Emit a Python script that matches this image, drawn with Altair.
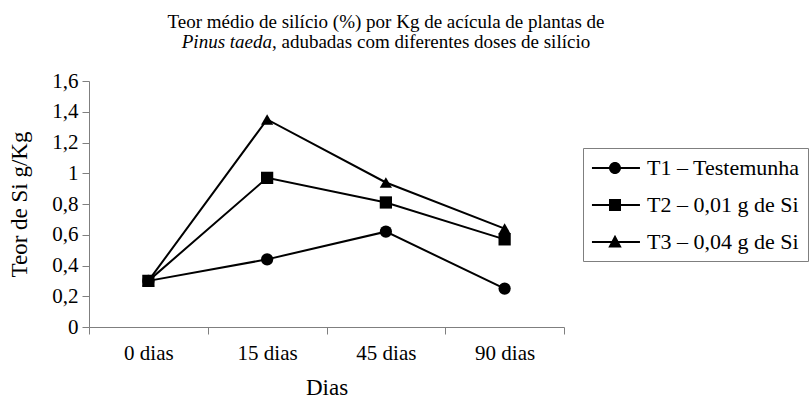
import altair as alt
import pandas as pd

# ---- data ----
dias = ["0 dias", "15 dias", "45 dias", "90 dias"]
series = ["T1 – Testemunha", "T2 – 0,01 g de Si", "T3 – 0,04 g de Si"]
t1 = [0.30, 0.44, 0.62, 0.25]
t2 = [0.30, 0.97, 0.81, 0.57]
t3 = [0.30, 1.35, 0.94, 0.64]
y_ticks = [0, 0.2, 0.4, 0.6, 0.8, 1.0, 1.2, 1.4, 1.6]

title_line1 = "Teor médio de silício (%) por Kg de acícula de plantas de"
title_line2_italic = "Pinus taeda"
title_line2_rest = ", adubadas com diferentes doses de silício"
x_title = "Dias"
y_title = "Teor de Si g/Kg"

FONT = "'Liberation Serif', 'Times New Roman', 'DejaVu Serif', serif"
AXIS_GRAY = "#7f7f7f"

df = pd.DataFrame({
    "dia": dias * 3,
    "serie": [s for s in series for _ in dias],
    "valor": t1 + t2 + t3,
})

# legend symbols: line segment + marker (custom SVG paths in symbol units)
legend_paths = [
    "M-0.92,-0.09H3.08V0.09H-0.92Z M1.5,0A0.5,0.5,0,1,1,0.5,0A0.5,0.5,0,1,1,1.5,0Z",
    "M-0.92,-0.09H3.08V0.09H-0.92Z M0.5,-0.5H1.5V0.5H0.5Z",
    "M-0.92,-0.09H3.08V0.09H-0.92Z M1,-0.6L1.56,0.45H0.44Z",
]

x_enc = alt.X(
    "dia:N",
    sort=dias,
    scale=alt.Scale(type="band", paddingInner=0, paddingOuter=0),
    axis=alt.Axis(
        title=x_title, labelAngle=0, tickBand="extent", grid=False,
        domainColor=AXIS_GRAY, tickColor=AXIS_GRAY, tickSize=7,
        labelFont=FONT, labelFontSize=21, labelColor="black", labelPadding=8,
        titleFont=FONT, titleFontSize=23, titleFontWeight="normal",
        titleColor="black", titlePadding=13,
    ),
)
y_enc = alt.Y(
    "valor:Q",
    scale=alt.Scale(domain=[0, 1.6], nice=False),
    axis=alt.Axis(
        title=y_title, values=y_ticks, format=".1~f",
        labelExpr="replace(datum.label, '.', ',')", grid=False,
        domainColor=AXIS_GRAY, tickColor=AXIS_GRAY, tickSize=7,
        labelFont=FONT, labelFontSize=21, labelColor="black", labelPadding=4,
        titleFont=FONT, titleFontSize=23, titleFontWeight="normal",
        titleColor="black", titlePadding=20,
    ),
)

lines = alt.Chart(df).mark_line(color="black", strokeWidth=2).encode(
    x=x_enc, y=y_enc, detail="serie:N"
)

points = alt.Chart(df).mark_point(
    filled=True, color="black", size=150, opacity=1
).encode(
    x=x_enc, y=y_enc,
    shape=alt.Shape(
        "serie:N",
        scale=alt.Scale(domain=series, range=["circle", "square", "triangle-up"]),
        legend=None,
    ),
)

legend_layer = alt.Chart(df).mark_point(
    filled=True, color="black", size=1, opacity=0
).encode(
    x=x_enc, y=y_enc,
    shape=alt.Shape(
        "serie:N",
        scale=alt.Scale(domain=series, range=legend_paths),
        legend=alt.Legend(
            title=None, orient="none", legendX=494, legendY=67,
            padding=8, rowPadding=14, strokeColor=AXIS_GRAY,
            symbolSize=576, symbolStrokeWidth=0, symbolFillColor="black",
            symbolOpacity=1,
            labelFont=FONT, labelFontSize=22, labelColor="black",
            labelOffset=32, labelBaseline="middle", labelLimit=400,
        ),
    ),
)


def text_layer(txt, xpos, ypos, align, style):
    return alt.Chart(pd.DataFrame({"t": [txt]})).mark_text(
        align=align, baseline="alphabetic", font=FONT, fontSize=19,
        fontStyle=style, color="black",
    ).encode(text="t:N", x=alt.value(xpos), y=alt.value(ypos))


t_line1 = text_layer(title_line1, 297, -53, "center", "normal")
t_line2a = text_layer(title_line2_italic, 183, -33.5, "right", "italic")
t_line2b = text_layer(title_line2_rest, 183, -33.5, "left", "normal")

chart = alt.layer(
    lines, points, legend_layer, t_line1, t_line2a, t_line2b
).resolve_scale(shape="independent").properties(
    width=475, height=246,
    padding={"left": 89, "top": 81, "right": 246, "bottom": 82},
    autosize=alt.AutoSizeParams(type="none"),
    background="white",
).configure_view(stroke=None)

chart.save("out.html", embed_options={"renderer": "svg", "actions": False})
